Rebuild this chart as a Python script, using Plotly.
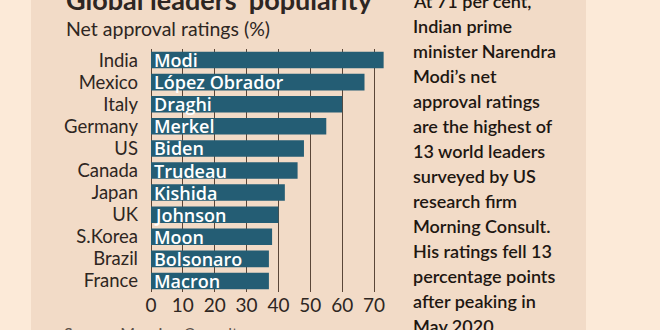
import plotly.graph_objects as go

# Net approval ratings by country and leader (%)
countries = ["India", "Mexico", "Italy", "Germany", "US", "Canada",
             "Japan", "UK", "S.Korea", "Brazil", "France"]
leaders = ["Modi", "López Obrador", "Draghi", "Merkel", "Biden", "Trudeau",
           "Kishida", "Johnson", "Moon", "Bolsonaro", "Macron"]
net_approval = [73, 67, 60, 55, 48, 46, 42, 40, 38, 37, 37]
x_ticks = [0, 10, 20, 30, 40, 50, 60, 70]

title = "Global leaders’ popularity"
subtitle = "Net approval ratings (%)"
source = "Source: Morning Consult"
side_note = [
    "At 71 per cent,", "Indian prime", "minister Narendra", "Modi’s net",
    "approval ratings", "are the highest of", "13 world leaders",
    "surveyed by US", "research firm", "Morning Consult.",
    "His ratings fell 13", "percentage points", "after peaking in",
    "May 2020.",
]

W, H = 660, 330
L, R, T, B = 151, 270, 49, 38
FONT = "Lato"
BAR_FONT = "Open Sans"
INK = "#2E2622"
PANEL = "#F2DBC7"
EDGE = "#FCEAD8"
BAR = "#245D74"
GRID = "#5A4638"


def px_x(p):
    return (p - L) / (W - L - R)


def px_y(p):
    return (H - B - p) / (H - T - B)


fig = go.Figure(
    go.Bar(
        x=net_approval,
        y=countries,
        orientation="h",
        text=leaders,
        textposition="inside",
        insidetextanchor="start",
        textangle=0,
        constraintext="none",
        textfont=dict(family=BAR_FONT, size=18, color="white", weight=600),
        marker=dict(color=BAR, line=dict(width=0)),
        hoverinfo="skip",
    )
)

annotations = [
    dict(text=f"<b>{title}</b>", x=px_x(64), y=px_y(0), xanchor="left",
         yanchor="middle", font=dict(family=FONT, size=27, color=INK)),
    dict(text=subtitle, x=px_x(64), y=px_y(28), xanchor="left",
         yanchor="middle", font=dict(family=FONT, size=19.5, color=INK)),
    dict(text=source, x=px_x(62), y=px_y(332), xanchor="left",
         yanchor="middle", font=dict(family=FONT, size=16, color="#5C514A")),
]
for i, line in enumerate(side_note):
    annotations.append(
        dict(text=line, x=px_x(411), y=px_y(1 + 25 * i), xanchor="left",
             yanchor="middle",
             font=dict(family=FONT, size=18, color="#1E1712", weight=600))
    )
for a in annotations:
    a.update(xref="paper", yref="paper", showarrow=False)

shapes = [
    dict(type="rect", xref="paper", yref="paper", x0=px_x(0), x1=px_x(31),
         y0=px_y(H + 5), y1=px_y(-5), fillcolor=EDGE, line=dict(width=0),
         layer="below"),
    dict(type="rect", xref="paper", yref="paper", x0=px_x(586), x1=px_x(W + 5),
         y0=px_y(H + 5), y1=px_y(-5), fillcolor=EDGE, line=dict(width=0),
         layer="below"),
]

fig.update_layout(
    width=W, height=H,
    margin=dict(l=L, r=R, t=T, b=B, pad=0),
    paper_bgcolor=PANEL,
    plot_bgcolor="rgba(0,0,0,0)",
    showlegend=False,
    bargap=0.25,
    annotations=annotations,
    shapes=shapes,
    font=dict(family=FONT, color=INK),
)
fig.update_xaxes(
    range=[0, 75], tickvals=x_ticks, showgrid=True, gridcolor=GRID,
    gridwidth=1, zeroline=True, zerolinecolor=GRID, zerolinewidth=1,
    showline=False, ticks="", tickfont=dict(family=FONT, size=19, color=INK),
    fixedrange=True,
)
fig.update_yaxes(
    autorange="reversed", showgrid=False, showline=False, ticks="",
    ticklabelstandoff=12, tickfont=dict(family=FONT, size=18.5, color=INK),
    fixedrange=True,
)

fig.write_html("out.html", config={"displayModeBar": False})
